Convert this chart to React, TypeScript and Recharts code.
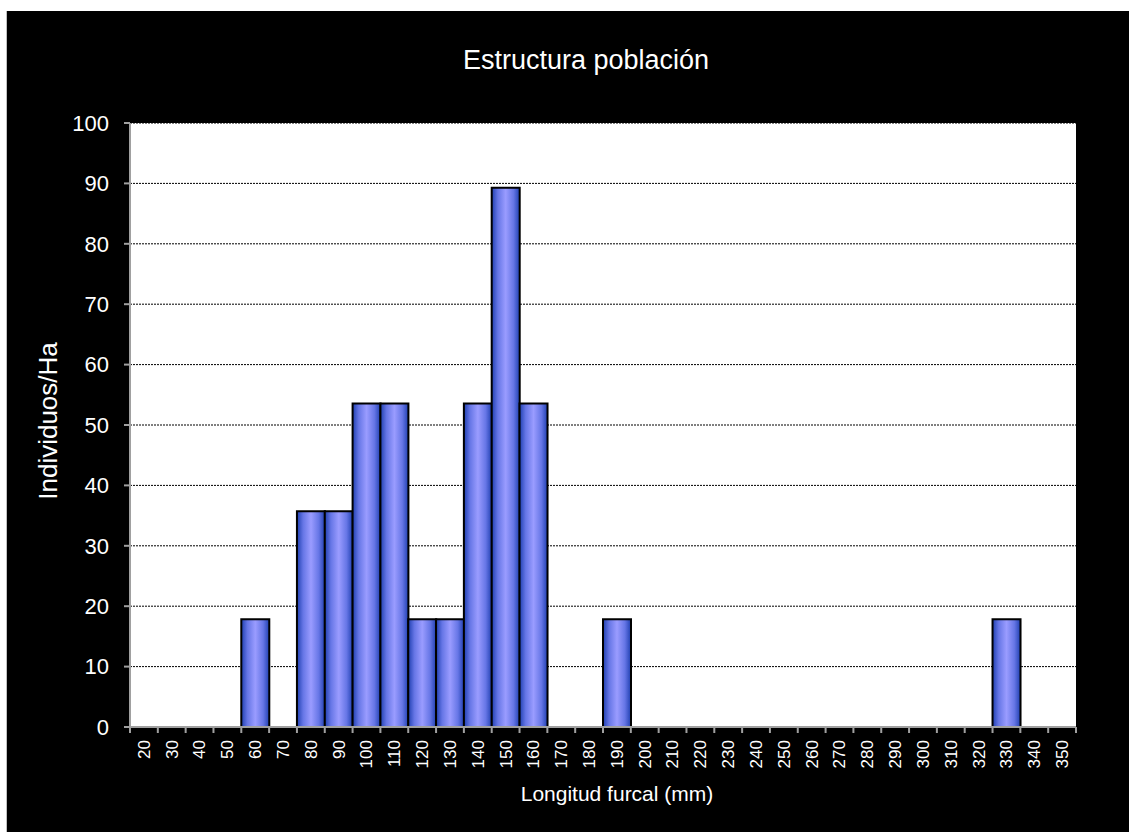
import { Bar, BarChart, CartesianGrid, Label, XAxis, YAxis } from 'recharts';

const categories = [
  '20', '30', '40', '50', '60', '70', '80', '90', '100', '110', '120', '130',
  '140', '150', '160', '170', '180', '190', '200', '210', '220', '230', '240',
  '250', '260', '270', '280', '290', '300', '310', '320', '330', '340', '350',
];
const individuos = [
  0, 0, 0, 0, 17.86, 0, 35.71, 35.71, 53.57, 53.57, 17.86, 17.86,
  53.57, 89.29, 53.57, 0, 0, 17.86, 0, 0, 0, 0, 0,
  0, 0, 0, 0, 0, 0, 0, 0, 17.86, 0, 0,
];
const yTicks = [0, 10, 20, 30, 40, 50, 60, 70, 80, 90, 100];

const data = categories.map((c, i) => ({ name: c, value: individuos[i] }));

const W = 1123;
const H = 821;
const MARGIN = { top: 112, right: 54, left: 63, bottom: 45 };
const PLOT_W = W - MARGIN.left - 60 - MARGIN.right;
const FONT = '"Liberation Sans", Arial, sans-serif';
const AXIS = '#a0a0a0';

// tick marks sit between categories (Excel style), labels stay centred
const XTick = (props: any) => {
  const { x, y, payload, index } = props;
  const bw = PLOT_W / categories.length;
  return (
    <g>
      <line x1={x - bw / 2} y1={y} x2={x - bw / 2} y2={y + 6} stroke={AXIS} strokeWidth={2} />
      {index === categories.length - 1 && (
        <line x1={x + bw / 2} y1={y} x2={x + bw / 2} y2={y + 6} stroke={AXIS} strokeWidth={2} />
      )}
      <text
        x={x}
        y={y + 13}
        transform={`rotate(-90 ${x} ${y + 13})`}
        textAnchor="end"
        dy="0.35em"
        fill="#fff"
        fontSize={17}
        fontFamily={FONT}
      >
        {payload.value}
      </text>
    </g>
  );
};

export default function App() {
  return (
    <div
      style={{
        position: 'absolute',
        left: 6,
        top: 11,
        width: W,
        height: H,
        background: '#000',
        borderLeft: '1px solid #c0c0c0',
        boxSizing: 'border-box',
        fontFamily: FONT,
      }}
    >
      <div
        style={{
          position: 'absolute',
          left: 0,
          top: 34,
          width: 1158,
          textAlign: 'center',
          color: '#fff',
          fontSize: 27,
          lineHeight: '30px',
        }}
      >
        Estructura población
      </div>
      <BarChart width={W} height={H} data={data} margin={MARGIN} barCategoryGap={0} barGap={0}>
        <defs>
          <linearGradient id="barFill" x1="0" y1="0" x2="1" y2="0">
            <stop offset="0%" stopColor="#1f3fb0" />
            <stop offset="22%" stopColor="#6676e6" />
            <stop offset="50%" stopColor="#9a9cff" />
            <stop offset="78%" stopColor="#6676e6" />
            <stop offset="100%" stopColor="#1f3fb0" />
          </linearGradient>
        </defs>
        <CartesianGrid vertical={false} stroke="#000" strokeDasharray="2 1" fill="#fff" fillOpacity={1} />
        <XAxis
          dataKey="name"
          height={60}
          interval={0}
          tickLine={false}
          tickSize={0}
          tickMargin={0}
          axisLine={{ stroke: AXIS, strokeWidth: 2 }}
          tick={<XTick />}
        >
          <Label
            content={() => (
              <text x={610} y={782} textAnchor="middle" dominantBaseline="central" fill="#fff" fontSize={21} fontFamily={FONT}>
                Longitud furcal (mm)
              </text>
            )}
          />
        </XAxis>
        <XAxis xAxisId="top" dataKey="name" orientation="top" height={0} tick={false} tickLine={false} axisLine={{ stroke: AXIS, strokeWidth: 2 }} />
        <YAxis
          width={60}
          domain={[0, 100]}
          ticks={yTicks}
          interval={0}
          tickSize={6}
          tickMargin={15}
          tickLine={{ stroke: AXIS, strokeWidth: 2 }}
          axisLine={{ stroke: AXIS, strokeWidth: 2 }}
          tick={{ fill: '#fff', fontSize: 22, fontFamily: FONT }}
        >
          <Label
            content={() => (
              <text
                x={41}
                y={410}
                transform="rotate(-90 41 410)"
                textAnchor="middle"
                dominantBaseline="central"
                fill="#fff"
                fontSize={26}
                fontFamily={FONT}
              >
                Individuos/Ha
              </text>
            )}
          />
        </YAxis>
        <YAxis yAxisId="right" orientation="right" width={0} domain={[0, 100]} tick={false} tickLine={false} axisLine={{ stroke: AXIS, strokeWidth: 2 }} />
        <Bar dataKey="value" fill="url(#barFill)" stroke="#000" strokeWidth={2} isAnimationActive={false} />
      </BarChart>
    </div>
  );
}
